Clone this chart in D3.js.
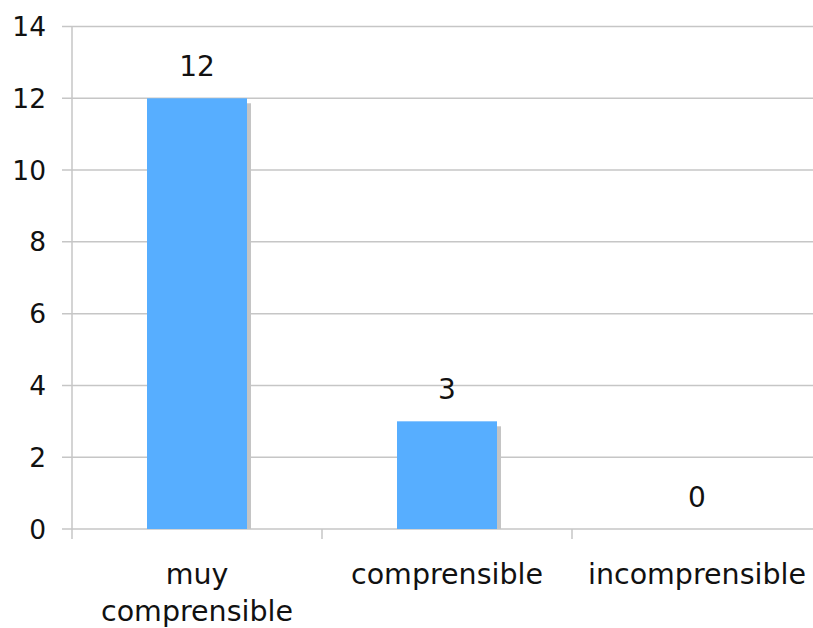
<!DOCTYPE html>
<html>
<head>
<meta charset="utf-8">
<script src="https://cdn.jsdelivr.net/npm/d3@7"></script>
<style>
  html, body { margin: 0; padding: 0; background: #fff; }
  svg { display: block; }
  text { font-family: "DejaVu Sans", Verdana, sans-serif; fill: #111; }
</style>
</head>
<body>
<svg id="chart" width="813" height="628"></svg>
<script>
// Responses per category
const categories = ["muy comprensible", "comprensible", "incomprensible"];
const values = [12, 3, 0];
const yTicks = [0, 2, 4, 6, 8, 10, 12, 14];

const svg = d3.select("#chart");
const plot = { left: 72, right: 822, top: 26.5, bottom: 529 };

const x = d3.scaleBand()
  .domain(categories)
  .range([plot.left, plot.right])
  .paddingInner(0.6)
  .paddingOuter(0.3);

const y = d3.scaleLinear()
  .domain([0, 14])
  .range([plot.bottom, plot.top]);

const gridColor = "#c6c6c6";

// horizontal gridlines (the 0 line doubles as the category axis)
svg.append("g").selectAll("line")
  .data(yTicks)
  .join("line")
  .attr("x1", plot.left - 10)
  .attr("x2", plot.right)
  .attr("y1", d => y(d))
  .attr("y2", d => y(d))
  .attr("stroke", gridColor)
  .attr("stroke-width", 1.5);

// value axis line
svg.append("line")
  .attr("x1", plot.left).attr("x2", plot.left)
  .attr("y1", y(14)).attr("y2", plot.bottom + 10)
  .attr("stroke", gridColor)
  .attr("stroke-width", 1.5);

// category separators below the axis
const step = x.step();
svg.append("g").selectAll("line")
  .data(categories.slice(1))
  .join("line")
  .attr("x1", d => x(d) - step * x.paddingInner() / 2)
  .attr("x2", d => x(d) - step * x.paddingInner() / 2)
  .attr("y1", plot.bottom)
  .attr("y2", plot.bottom + 10)
  .attr("stroke", gridColor)
  .attr("stroke-width", 1.5);

// y tick labels
svg.append("g").selectAll("text")
  .data(yTicks)
  .join("text")
  .attr("x", 46)
  .attr("y", d => y(d))
  .attr("dy", "0.36em")
  .attr("text-anchor", "end")
  .attr("font-size", 26.5)
  .text(d => d);

const data = categories.map((c, i) => ({ c, v: values[i] }));

// bar shadows
svg.append("g").selectAll("rect")
  .data(data.filter(d => d.v > 0))
  .join("rect")
  .attr("x", d => x(d.c) + 4)
  .attr("y", d => y(d.v) + 5)
  .attr("width", x.bandwidth())
  .attr("height", d => y(0) - y(d.v) - 5)
  .attr("fill", "#c4c4c4");

// bars
svg.append("g").selectAll("rect")
  .data(data)
  .join("rect")
  .attr("x", d => x(d.c))
  .attr("y", d => y(d.v))
  .attr("width", x.bandwidth())
  .attr("height", d => y(0) - y(d.v))
  .attr("fill", "#57aeff");

// value labels
svg.append("g").selectAll("text")
  .data(data)
  .join("text")
  .attr("x", d => x(d.c) + x.bandwidth() / 2)
  .attr("y", d => y(d.v) - 22)
  .attr("text-anchor", "middle")
  .attr("font-size", 28)
  .text(d => d.v);

// category labels, wrapped when wider than the slot
const catFont = 28.5;
const labels = svg.append("g").selectAll("text")
  .data(categories)
  .join("text")
  .attr("text-anchor", "middle")
  .attr("font-size", catFont)
  .attr("x", d => x(d) + x.bandwidth() / 2)
  .attr("y", 584);

labels.each(function(d) {
  const t = d3.select(this);
  t.text(d);
  if (this.getComputedTextLength() > step - 10) {
    t.text(null);
    const words = d.split(" ");
    const cx = x(d) + x.bandwidth() / 2;
    t.append("tspan").attr("x", cx).attr("dy", 0).text(words[0]);
    t.append("tspan").attr("x", cx).attr("dy", 37).text(words.slice(1).join(" "));
  }
});
</script>
</body>
</html>
